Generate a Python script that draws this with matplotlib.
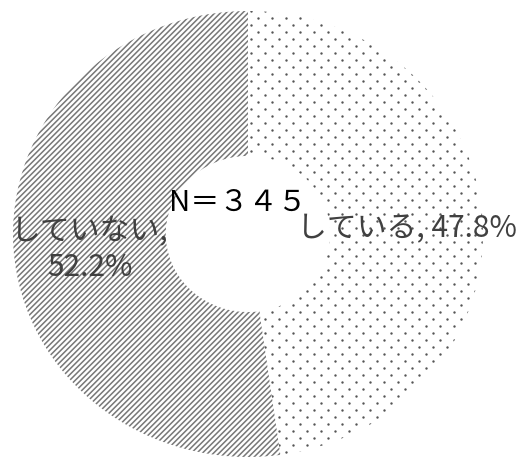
import numpy as np
import matplotlib
matplotlib.use("Agg")
import matplotlib.pyplot as plt

plt.rcParams['font.family'] = ['Noto Sans CJK JP', 'DejaVu Sans']
plt.rcParams['hatch.linewidth'] = 1.1

# data
labels = ['している', 'していない']
shares = [47.8, 52.2]
total_n = '３４５'

W, H = 521, 460
fig = plt.figure(figsize=(W / 100, H / 100), dpi=100)

# ellipse bounding box in pixels (chart looks a bit stretched horizontally)
left_px, right_px, top_px, bottom_px = 13, 483, 12, 458
ax = fig.add_axes([left_px / W, 1 - bottom_px / H,
                   (right_px - left_px) / W, (bottom_px - top_px) / H])

wedges, _ = ax.pie(shares, startangle=90, counterclock=False, radius=1,
                   colors=['white', 'white'],
                   wedgeprops=dict(width=0.65, linewidth=0))
ax.set_aspect('auto')
ax.set_xlim(-1, 1)
ax.set_ylim(-1, 1)
ax.axis('off')

# diagonal hatch for the "no" slice
wedges[1].set_hatch('//////')
wedges[1].set_edgecolor('#777777')
wedges[1].set_linewidth(0)

# dotted texture for the "yes" slice
px_x = 2 / (right_px - left_px)
px_y = 2 / (bottom_px - top_px)
xs, ys = [], []
for i, yy in enumerate(np.arange(1.0, -1.0, -7 * px_y)):
    off = 0 if i % 2 == 0 else 7 * px_x
    row = np.arange(-1.0 + off, 1.0, 14 * px_x)
    xs.extend(row)
    ys.extend([yy] * len(row))
dots = ax.scatter(xs, ys, s=3, color='#555555', linewidths=0)
dots.set_clip_path(wedges[0])


def px(x, y):
    return x / W, 1 - y / H


fig.text(*px(407, 229), f'{labels[0]}, {shares[0]}%', ha='center', va='center',
         fontsize=21.5, color='#404040')
fig.text(*px(90, 250), f'{labels[1]},\n{shares[1]}%', ha='center', va='center',
         fontsize=21.5, color='#404040', linespacing=1.2)
fig.text(*px(238, 203), f'N＝{total_n}', ha='center', va='center',
         fontsize=21, color='black')

fig.savefig('out.png', dpi=100)
